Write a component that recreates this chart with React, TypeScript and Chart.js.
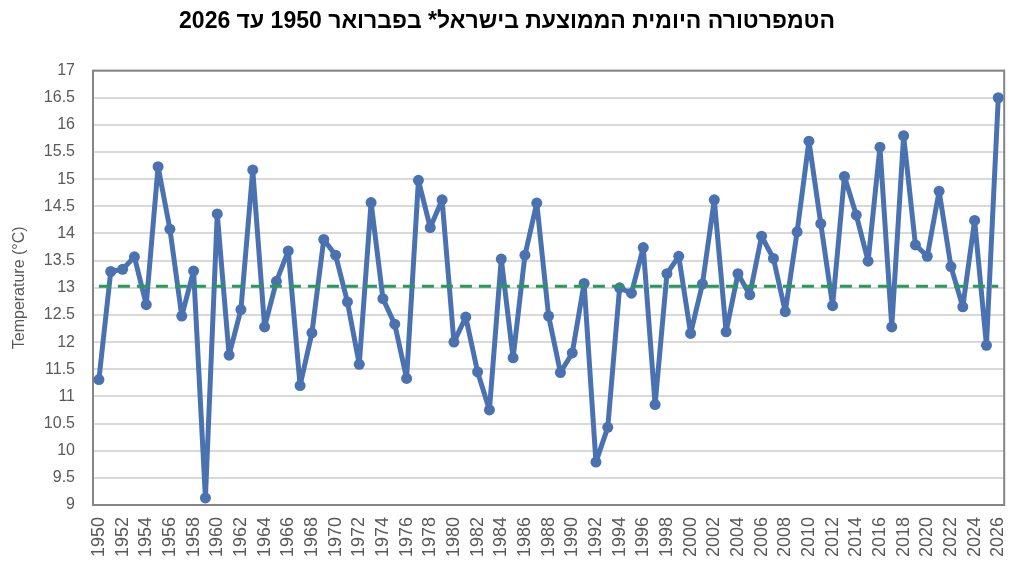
import React, { useEffect, useRef } from "react";
import { Chart, registerables } from "chart.js";

Chart.register(...registerables);

const TITLE = "הטמפרטורה היומית הממוצעת בישראל* בפברואר 1950 עד 2026";
const Y_TITLE = "Temperature (°C)";

const YEARS = [
  "1950", "1951", "1952", "1953", "1954", "1955", "1956", "1957", "1958", "1959",
  "1960", "1961", "1962", "1963", "1964", "1965", "1966", "1967", "1968", "1969",
  "1970", "1971", "1972", "1973", "1974", "1975", "1976", "1977", "1978", "1979",
  "1980", "1981", "1982", "1983", "1984", "1985", "1986", "1987", "1988", "1989",
  "1990", "1991", "1992", "1993", "1994", "1995", "1996", "1997", "1998", "1999",
  "2000", "2001", "2002", "2003", "2004", "2005", "2006", "2007", "2008", "2009",
  "2010", "2011", "2012", "2013", "2014", "2015", "2016", "2017", "2018", "2019",
  "2020", "2021", "2022", "2023", "2024", "2025", "2026",
];

const TEMPS = [
  11.31, 13.3, 13.34, 13.57, 12.69, 15.23, 14.08, 12.48, 13.31, 9.13,
  14.36, 11.76, 12.6, 15.17, 12.28, 13.12, 13.68, 11.2, 12.17, 13.89,
  13.6, 12.74, 11.59, 14.57, 12.8, 12.33, 11.33, 14.98, 14.11, 14.62,
  12.0, 12.46, 11.45, 10.75, 13.53, 11.71, 13.6, 14.56, 12.48, 11.44,
  11.8, 13.08, 9.79, 10.43, 13.0, 12.9, 13.74, 10.85, 13.26, 13.58,
  12.16, 13.07, 14.62, 12.19, 13.26, 12.87, 13.95, 13.54, 12.56, 14.03,
  15.7, 14.18, 12.67, 15.05, 14.34, 13.49, 15.59, 12.28, 15.8, 13.79,
  13.58, 14.78, 13.39, 12.65, 14.24, 11.94, 16.5,
];

const MEAN_TEMP = 13.03;

const Y_MIN = 9;
const Y_MAX = 17;
const Y_STEP = 0.5;

const FONT = "'Liberation Sans', Arial, sans-serif";
const TEXT_COLOR = "#595959";

const plotBox = {
  id: "plotBox",
  beforeDatasetsDraw(chart: any) {
    const { ctx, chartArea } = chart;
    ctx.save();
    ctx.strokeStyle = "#858585";
    ctx.lineWidth = 2;
    ctx.strokeRect(chartArea.left, chartArea.top, chartArea.right - chartArea.left, chartArea.bottom - chartArea.top);
    ctx.restore();
  },
};

export default function App() {
  const canvasRef = useRef<HTMLCanvasElement | null>(null);

  useEffect(() => {
    document.body.style.margin = "0";
    const canvas = canvasRef.current;
    if (!canvas) return;
    const chart = new Chart(canvas, {
      type: "line",
      data: {
        labels: YEARS,
        datasets: [
          {
            label: "Temperature",
            data: TEMPS,
            borderColor: "#4a72b0",
            backgroundColor: "#4a72b0",
            borderWidth: 5,
            borderJoinStyle: "round",
            borderCapStyle: "round",
            pointRadius: 5.5,
            pointBorderWidth: 0,
            pointBackgroundColor: "#4a72b0",
            tension: 0,
            clip: false as any,
            order: 2,
          },
          {
            label: "Mean",
            data: YEARS.map(() => MEAN_TEMP),
            borderColor: "#27995a",
            borderWidth: 3,
            borderDash: [12, 7],
            pointRadius: 0,
            tension: 0,
            order: 1,
          },
        ],
      },
      options: {
        animation: false,
        responsive: true,
        maintainAspectRatio: false,
        layout: { padding: { left: 0, right: 18, top: 0, bottom: 0 } },
        plugins: {
          legend: { display: false },
          tooltip: { enabled: false },
          title: {
            display: true,
            text: TITLE,
            color: "#000000",
            font: { family: FONT, size: 23, weight: "bold" },
            padding: { top: 8, bottom: 35 },
          },
        },
        scales: {
          x: {
            offset: true,
            grid: { display: false, drawTicks: false },
            border: { display: false },
            ticks: {
              autoSkip: false,
              minRotation: 90,
              maxRotation: 90,
              padding: 12,
              color: TEXT_COLOR,
              font: { family: FONT, size: 18 },
              callback: (_v: any, i: number) => (i % 2 === 0 ? YEARS[i] : null),
            },
            afterFit: (scale: any) => {
              scale.height = 74;
            },
          },
          y: {
            min: Y_MIN,
            max: Y_MAX,
            grid: { color: "#d9d9d9", lineWidth: 2, drawTicks: false },
            border: { display: false },
            ticks: {
              stepSize: Y_STEP,
              padding: 18,
              color: TEXT_COLOR,
              font: { family: FONT, size: 16 },
              callback: (v: any) => String(v),
            },
            title: {
              display: true,
              text: Y_TITLE,
              color: TEXT_COLOR,
              font: { family: FONT, size: 16 },
              padding: { top: 10, bottom: 0 },
            },
            afterFit: (scale: any) => {
              scale.width = 93;
            },
          },
        },
      },
      plugins: [plotBox],
    });
    return () => chart.destroy();
  }, []);

  return (
    <div style={{ position: "absolute", left: 0, top: 0, width: 1032, height: 579, background: "#ffffff" }}>
      <canvas ref={canvasRef} />
    </div>
  );
}
